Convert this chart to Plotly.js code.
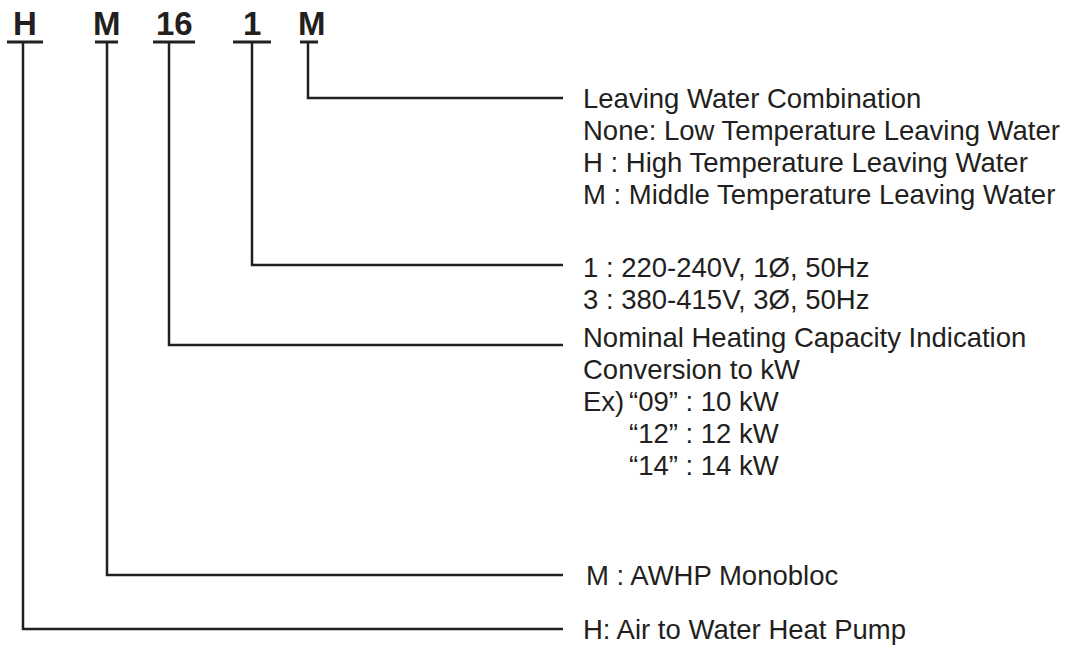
<!DOCTYPE html>
<html>
<head>
<meta charset="utf-8">
<script src="https://cdn.plot.ly/plotly-3.0.1.min.js"></script>
<style>html,body{margin:0;padding:0;background:#fff;}#chart{width:1071px;height:652px;}</style>
</head>
<body>
<div id="chart"></div>
<script>
// ---- data ----
var codes = ['H', 'M', '16', '1', 'M'];
var descH = ['H: Air to Water Heat Pump'];
var descM = ['M : AWHP Monobloc'];
var descCap = ['Nominal Heating Capacity Indication', 'Conversion to kW', 'Ex)', '“09” : 10 kW', '“12” : 12 kW', '“14” : 14 kW'];
var descPower = ['1 : 220-240V, 1Ø, 50Hz', '3 : 380-415V, 3Ø, 50Hz'];
var descWater = ['Leaving Water Combination', 'None: Low Temperature Leaving Water', 'H : High Temperature Leaving Water', 'M : Middle Temperature Leaving Water'];

// ---- layout geometry (positions, not data) ----
var codeCenterX = [25, 107, 174, 252, 312];
var underline = [[7, 43], [95, 118], [153, 195], [233, 271], [300, 318]];
var stemX = [23, 107, 169, 252, 308];
var leaderY = [629, 575, 345, 265, 98];
var underlineY = 42;
var leaderEndX = 563;
var textX = 581;
var lineGap = 32;
var codeBaseY = 23;
var ink = '#231f20';

var groups = [descH, descM, descCap, descPower, descWater];
var textStartY = [629, 575, 337, 267, 98];
var textXOff = [[0], [3], [0, 0, 0, 46, 46, 46], [0, 0], [0, 0, 0, 0]];
var textRow = [[0], [0], [0, 1, 2, 2, 3, 4], [0, 1], [0, 1, 2, 3]];

var traces = [];
codes.forEach(function (c, i) {
  traces.push({
    type: 'scatter', mode: 'lines', hoverinfo: 'skip', showlegend: false,
    x: underline[i], y: [underlineY, underlineY],
    line: {color: ink, width: 3}
  });
  traces.push({
    type: 'scatter', mode: 'lines', hoverinfo: 'skip', showlegend: false,
    x: [stemX[i], stemX[i], leaderEndX], y: [underlineY, leaderY[i], leaderY[i]],
    line: {color: ink, width: 2.5}
  });
});

var annotations = [];
codes.forEach(function (c, i) {
  annotations.push({
    x: codeCenterX[i], y: codeBaseY, xref: 'x', yref: 'y', text: '<b>' + c + '</b>',
    showarrow: false, xanchor: 'center', yanchor: 'middle',
    font: {family: 'Liberation Sans, Arial, sans-serif', size: 33, color: ink}
  });
});
groups.forEach(function (g, gi) {
  g.forEach(function (t, li) {
    annotations.push({
      x: textX + textXOff[gi][li], y: textStartY[gi] + textRow[gi][li] * lineGap,
      xref: 'x', yref: 'y', text: t, showarrow: false, xanchor: 'left', yanchor: 'middle',
      font: {family: 'Liberation Sans, Arial, sans-serif', size: 27.5, color: ink}
    });
  });
});

var layout = {
  width: 1071, height: 652,
  margin: {l: 0, r: 0, t: 0, b: 0},
  paper_bgcolor: '#ffffff', plot_bgcolor: '#ffffff',
  xaxis: {range: [0, 1071], visible: false, fixedrange: true},
  yaxis: {range: [652, 0], visible: false, fixedrange: true},
  annotations: annotations,
  showlegend: false
};
Plotly.newPlot('chart', traces, layout, {displayModeBar: false, staticPlot: true});
</script>
</body>
</html>
